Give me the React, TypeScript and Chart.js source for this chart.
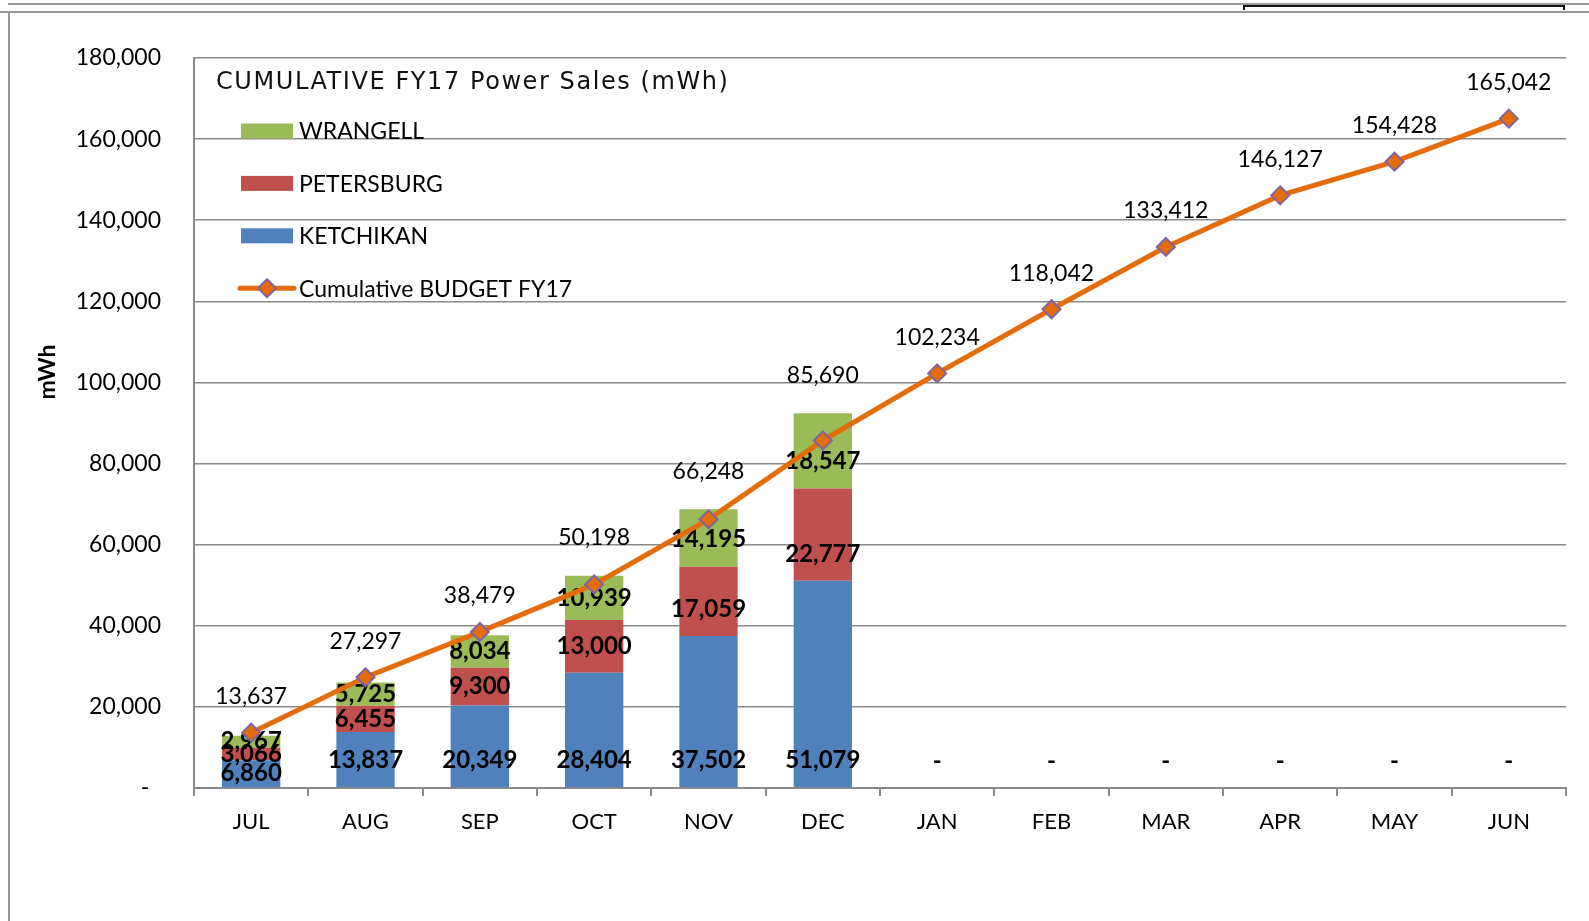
import React, { useEffect, useRef } from 'react';
import { Chart, registerables } from 'chart.js';

Chart.register(...registerables);

// ---------- data ----------
const MONTHS = ['JUL', 'AUG', 'SEP', 'OCT', 'NOV', 'DEC', 'JAN', 'FEB', 'MAR', 'APR', 'MAY', 'JUN'];
const KETCHIKAN = [6860, 13837, 20349, 28404, 37502, 51079, 0, 0, 0, 0, 0, 0];
const PETERSBURG = [3066, 6455, 9300, 13000, 17059, 22777, 0, 0, 0, 0, 0, 0];
const WRANGELL = [2967, 5725, 8034, 10939, 14195, 18547, 0, 0, 0, 0, 0, 0];
const BUDGET = [13637, 27297, 38479, 50198, 66248, 85690, 102234, 118042, 133412, 146127, 154428, 165042];
const Y_MIN = 0;
const Y_MAX = 180000;
const Y_STEP = 20000;
const CHART_TITLE = 'CUMULATIVE FY17 Power Sales (mWh)';
const Y_TITLE = 'mWh';

// ---------- styles ----------
const C_KET = '#4F81BD';
const C_PET = '#C0504D';
const C_WRA = '#9BBB59';
const C_LINE = '#E46C0A';
const C_MARK_BORDER = '#8064A2';
const C_GRID = '#8a8a8a';
const FONT = 'Lato, "Open Sans", "Liberation Sans", sans-serif';

const fmt = (v: number) => (v === 0 ? '-' : v.toLocaleString('en-US'));

const framePlugin = {
  id: 'frame',
  beforeDraw(chart: any) {
    const ctx = chart.ctx;
    ctx.save();
    ctx.fillStyle = '#fff';
    ctx.fillRect(0, 0, chart.width, chart.height);
    ctx.strokeStyle = '#9a9a9a';
    ctx.lineWidth = 2;
    ctx.beginPath();
    ctx.moveTo(8, 4);
    ctx.lineTo(chart.width, 4);
    ctx.moveTo(0, 12);
    ctx.lineTo(chart.width, 12);
    ctx.moveTo(9, 12);
    ctx.lineTo(9, chart.height);
    ctx.stroke();
    ctx.strokeStyle = '#111';
    ctx.lineWidth = 2;
    ctx.beginPath();
    ctx.moveTo(1244, 10);
    ctx.lineTo(1244, 6);
    ctx.lineTo(1564, 6);
    ctx.lineTo(1564, 10);
    ctx.stroke();
    ctx.restore();
  },
};

const barLabelPlugin = {
  id: 'barLabels',
  beforeDatasetDraw(chart: any, args: any) {
    if (args.index !== 3) return;
    const ctx = chart.ctx;
    ctx.save();
    ctx.textAlign = 'center';
    ctx.textBaseline = 'middle';
    ctx.fillStyle = '#000';
    ctx.font = `bold 24px ${FONT}`;
    [0, 1, 2].forEach((di) => {
      const meta = chart.getDatasetMeta(di);
      meta.data.forEach((el: any, i: number) => {
        const v = chart.data.datasets[di].data[i] as number;
        if (v === 0 && di > 0) return;
        const { x, y, base } = el.getProps(['x', 'y', 'base'], true);
        const h = base - y;
        const off = h <= 0 ? 27 : Math.min(27, h / 2);
        ctx.fillText(fmt(v), x, base - off);
      });
    });
    ctx.restore();
  },
};

const lineLabelPlugin = {
  id: 'lineLabels',
  afterDatasetsDraw(chart: any) {
    const ctx = chart.ctx;
    ctx.save();
    ctx.textAlign = 'center';
    ctx.textBaseline = 'middle';
    ctx.fillStyle = '#000';
    ctx.font = `23px ${FONT}`;
    const lineMeta = chart.getDatasetMeta(3);
    const topMeta = chart.getDatasetMeta(2);
    lineMeta.data.forEach((pt: any, i: number) => {
      const barTop = topMeta.data[i].y;
      const yy = Math.min(pt.y - 36, barTop - 38);
      ctx.fillText(fmt(BUDGET[i]), pt.x, yy);
    });
    ctx.restore();
  },
};

const legendPlugin = {
  id: 'customLegend',
  afterDraw(chart: any) {
    const ctx = chart.ctx;
    ctx.save();
    // title
    ctx.fillStyle = '#111';
    ctx.textBaseline = 'middle';
    ctx.textAlign = 'left';
    ctx.font = '24px "DejaVu Sans", Verdana, sans-serif';
    const target = 512;
    const w0 = ctx.measureText(CHART_TITLE).width;
    const ls = Math.max(0, (target - w0) / (CHART_TITLE.length - 1));
    (ctx as any).letterSpacing = `${ls.toFixed(2)}px`;
    ctx.fillText(CHART_TITLE, 216, 83);
    (ctx as any).letterSpacing = '0px';

    // items
    const items = [
      { label: 'WRANGELL', color: C_WRA, type: 'box' },
      { label: 'PETERSBURG', color: C_PET, type: 'box' },
      { label: 'KETCHIKAN', color: C_KET, type: 'box' },
      { label: 'Cumulative BUDGET FY17', color: C_LINE, type: 'line' },
    ];
    ctx.font = `23px ${FONT}`;
    items.forEach((it, k) => {
      const cy = 131 + k * 52.4;
      if (it.type === 'box') {
        ctx.fillStyle = it.color;
        ctx.fillRect(241, cy - 7.5, 52, 15);
      } else {
        ctx.strokeStyle = it.color;
        ctx.lineWidth = 5;
        ctx.lineCap = 'round';
        ctx.beginPath();
        ctx.moveTo(240, cy);
        ctx.lineTo(294, cy);
        ctx.stroke();
        ctx.beginPath();
        ctx.moveTo(267 - 9, cy);
        ctx.lineTo(267, cy - 9);
        ctx.lineTo(267 + 9, cy);
        ctx.lineTo(267, cy + 9);
        ctx.closePath();
        ctx.fillStyle = C_LINE;
        ctx.fill();
        ctx.lineWidth = 2;
        ctx.strokeStyle = C_MARK_BORDER;
        ctx.stroke();
      }
      ctx.fillStyle = '#000';
      ctx.fillText(it.label, 299, cy + 1);
    });

    // y axis title
    ctx.translate(48, 372);
    ctx.rotate(-Math.PI / 2);
    ctx.textAlign = 'center';
    ctx.font = `bold 23px ${FONT}`;
    ctx.fillStyle = '#000';
    ctx.fillText(Y_TITLE, 0, 0);
    ctx.restore();
  },
};

export default function App() {
  const ref = useRef<HTMLCanvasElement | null>(null);

  useEffect(() => {
    if (!ref.current) return;
    const chart = new Chart(ref.current, {
      type: 'bar',
      data: {
        labels: MONTHS,
        datasets: [
          { type: 'bar', label: 'KETCHIKAN', data: KETCHIKAN, backgroundColor: C_KET, stack: 's', order: 1, barPercentage: 0.51, categoryPercentage: 1 },
          { type: 'bar', label: 'PETERSBURG', data: PETERSBURG, backgroundColor: C_PET, stack: 's', order: 1, barPercentage: 0.51, categoryPercentage: 1 },
          { type: 'bar', label: 'WRANGELL', data: WRANGELL, backgroundColor: C_WRA, stack: 's', order: 1, barPercentage: 0.51, categoryPercentage: 1 },
          {
            type: 'line',
            label: 'Cumulative BUDGET FY17',
            data: BUDGET,
            borderColor: C_LINE,
            borderWidth: 5,
            pointStyle: 'rectRot',
            pointRadius: 9,
            pointBackgroundColor: C_LINE,
            pointBorderColor: C_MARK_BORDER,
            pointBorderWidth: 2,
            tension: 0,
            order: 0,
          } as any,
        ],
      },
      options: {
        responsive: false,
        animation: false,
        devicePixelRatio: 1,
        layout: { padding: { left: 0, right: 23, top: 58, bottom: 0 } },
        plugins: {
          legend: { display: false },
          title: { display: false },
          tooltip: { enabled: false },
        },
        scales: {
          x: {
            stacked: true,
            offset: true,
            grid: {
              offset: true,
              drawOnChartArea: false,
              drawTicks: true,
              tickLength: 8,
              color: C_GRID,
              lineWidth: 2,
            },
            border: { display: true, color: C_GRID, width: 2 },
            ticks: { color: '#000', font: { family: FONT, size: 22 }, padding: 13, maxRotation: 0 },
            afterFit: (s: any) => {
              s.height = 133;
            },
          },
          y: {
            stacked: true,
            min: Y_MIN,
            max: Y_MAX,
            grid: { color: C_GRID, lineWidth: 1.5, drawTicks: false },
            border: { display: true, color: C_GRID, width: 2 },
            ticks: {
              stepSize: Y_STEP,
              color: '#000',
              font: { family: FONT, size: 23 },
              padding: 33,
              callback: (v: any) => (Number(v) === 0 ? '-  ' : Number(v).toLocaleString('en-US')),
            },
            afterFit: (s: any) => {
              s.width = 194;
            },
          },
        },
      },
      plugins: [framePlugin, barLabelPlugin, lineLabelPlugin, legendPlugin],
    });
    return () => chart.destroy();
  }, []);

  return (
    <div style={{ position: 'fixed', left: 0, top: 0, width: 1589, height: 921, background: '#fff' }}>
      <canvas ref={ref} width={1589} height={921} style={{ display: 'block', width: 1589, height: 921 }} />
    </div>
  );
}
